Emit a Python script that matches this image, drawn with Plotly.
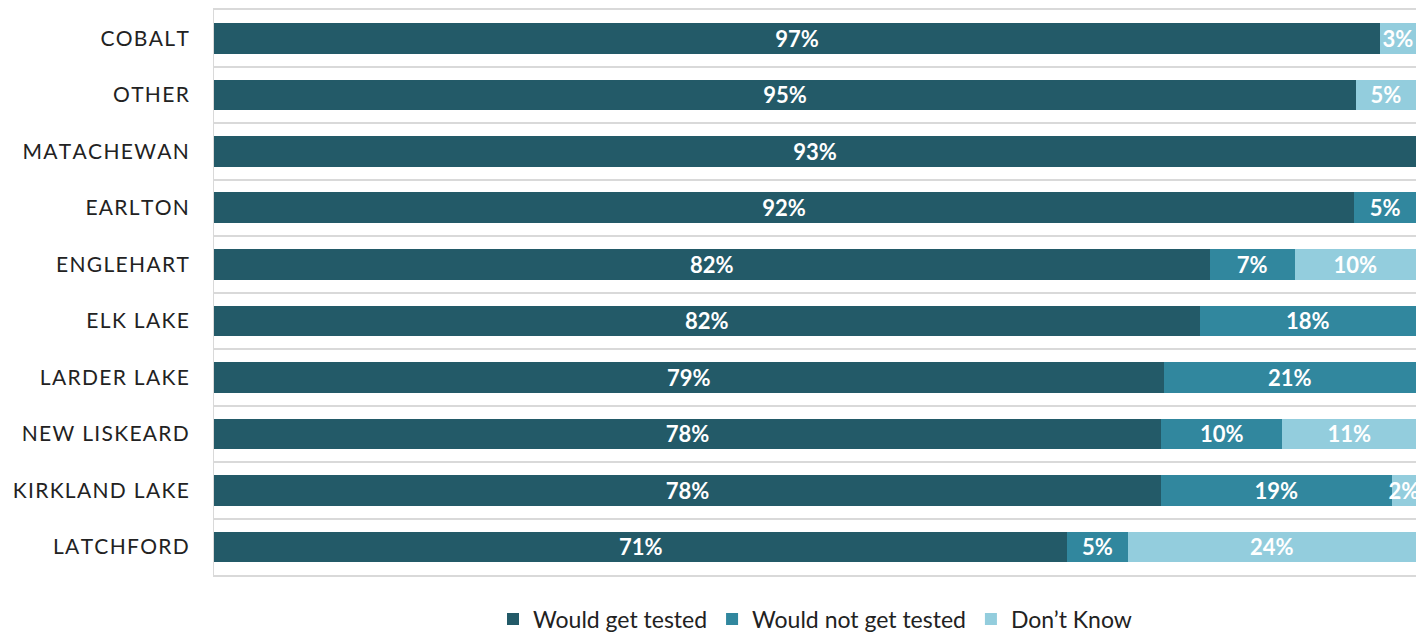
import plotly.graph_objects as go

# Survey results by community (top to bottom as listed)
communities = ["COBALT", "OTHER", "MATACHEWAN", "EARLTON", "ENGLEHART",
               "ELK LAKE", "LARDER LAKE", "NEW LISKEARD", "KIRKLAND LAKE", "LATCHFORD"]
would_get_tested = [97, 95, 93, 92, 82, 82, 79, 78, 78, 71]
would_not_get_tested = [None, None, None, 5, 7, 18, 21, 10, 19, 5]
dont_know = [3, 5, None, None, 10, None, None, 11, 2, 24]

series = [
    ("Would get tested", would_get_tested, "#235a68"),
    ("Would not get tested", would_not_get_tested, "#31879e"),
    ("Don\u2019t Know", dont_know, "#93cddd"),
]


def spaced(label):
    # widen the tracking of the uppercase axis labels
    return "\u200a".join(label)


tick_text = [spaced(c) for c in communities]

fig = go.Figure()
for name, vals, color in series:
    labels = ["" if v is None else f"{v}%" for v in vals]
    fig.add_trace(go.Bar(
        y=communities,
        x=vals,
        name=name,
        orientation="h",
        marker=dict(color=color, line=dict(width=0)),
        text=labels,
        textposition="inside",
        insidetextanchor="middle",
        textangle=0,
        constraintext="none",
        textfont=dict(family="Lato", size=22, color="white", weight="bold"),
        hoverinfo="skip",
    ))

fig.update_layout(
    width=1426, height=639,
    barmode="stack",
    barnorm="percent",
    bargap=0.46,
    plot_bgcolor="white",
    paper_bgcolor="white",
    margin=dict(l=214, r=10, t=10, b=64, autoexpand=False),
    uniformtext=dict(mode="show", minsize=22),
    legend=dict(
        orientation="h",
        x=0.5, xanchor="center",
        y=-0.04, yanchor="top",
        font=dict(family="Lato", size=23, color="#222222"),
        traceorder="normal",
        itemwidth=30,
    ),
    showlegend=True,
)
fig.update_xaxes(range=[0, 100], showticklabels=False, showgrid=False,
                 zeroline=False, showline=True, mirror=True,
                 linecolor="#d9d9d9", linewidth=2, fixedrange=True)
fig.update_yaxes(
    categoryorder="array",
    categoryarray=communities[::-1],
    tickmode="array",
    tickvals=communities,
    ticktext=tick_text,
    tickson="boundaries",
    showgrid=True, gridcolor="#d9d9d9", gridwidth=2,
    showline=True, linecolor="#d9d9d9", linewidth=1,
    ticks="", ticklen=0,
    tickfont=dict(family="Lato", size=21, color="#222222"),
    ticklabelstandoff=20,
)

fig.write_html("out.html")
